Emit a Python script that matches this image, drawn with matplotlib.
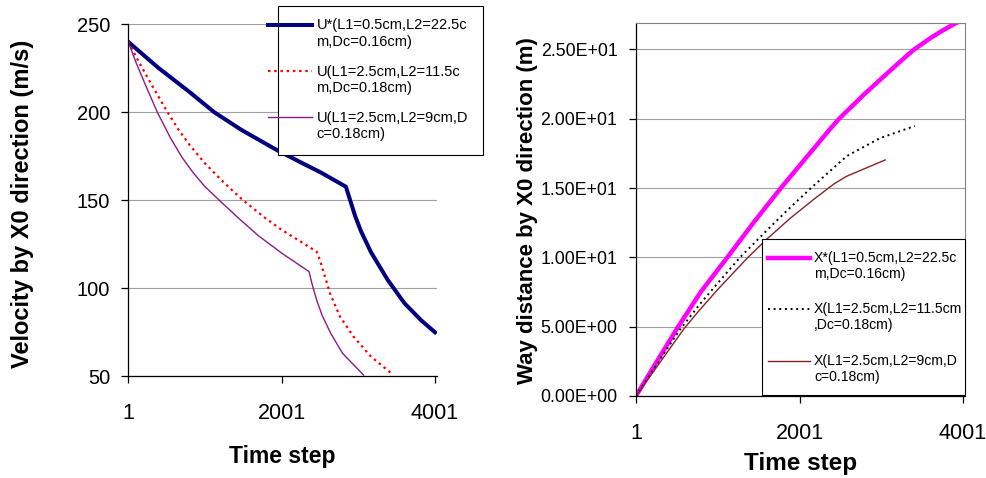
import numpy as np
import matplotlib
matplotlib.use("Agg")
import matplotlib.pyplot as plt
from matplotlib.lines import Line2D
from matplotlib.legend_handler import HandlerLine2D
from matplotlib.patches import Rectangle
from matplotlib.ticker import FuncFormatter

plt.rcParams['font.family'] = ['Liberation Sans', 'DejaVu Sans']

# ---------------- data ----------------
x_ticks = [1, 2001, 4001]
x_tick_labels = ["1", "2001", "4001"]

# left chart: velocity
u_star_steps = [1, 392, 800, 1123, 1480, 1936, 2293, 2512, 2839, 2880, 2960, 3035, 3166, 3385, 3603, 3821, 4001]
u_star_vals = [240, 225.3, 211.5, 200, 189.9, 178.6, 170.6, 165.8, 157.7, 152, 141, 132.5, 120.5, 104.7, 91.5, 81.8, 75]

u2_steps = [1, 140, 320, 500, 650, 800, 1000, 1250, 1485, 1770, 2001, 2250, 2413, 2457, 2500, 2566, 2631, 2762, 2937, 3166, 3428]
u2_vals = [240, 228.5, 214.5, 201, 190.5, 181.5, 171, 160, 150.5, 140.5, 133.2, 126.5, 122, 120.8, 116, 106.6, 97.2, 83.9, 72.6, 61.2, 51.8]

u3_steps = [1, 100, 230, 380, 550, 700, 850, 1000, 1200, 1440, 1700, 2001, 2358, 2400, 2460, 2530, 2641, 2796, 3070]
u3_vals = [240, 228.5, 215, 200, 185.5, 174.5, 165.5, 157.8, 149.5, 139.8, 129.8, 120, 109.5, 102, 93, 84.5, 74.4, 63, 50.7]

u_labels = ["U*(L1=0.5cm,L2=22.5c\nm,Dc=0.16cm)",
            "U(L1=2.5cm,L2=11.5c\nm,Dc=0.18cm)",
            "U(L1=2.5cm,L2=9cm,D\nc=0.18cm)"]
u_yticks = [50, 100, 150, 200, 250]

# right chart: way distance
x_star_steps = [1, 221, 506, 792, 1118, 1444, 1772, 2373, 2485, 2781, 2984, 3189, 3392, 3597, 3718, 3882, 4001]
x_star_vals = [0, 2.15, 4.9, 7.5, 10.0, 12.55, 15.0, 19.25, 20.0, 21.7, 22.8, 23.9, 24.95, 25.8, 26.25, 26.8, 27.15]

x2_steps = [1, 334, 540, 792, 995, 1273, 1607, 1843, 2137, 2577, 2984, 3412]
x2_vals = [0, 3.0, 4.8, 6.7, 8.1, 10.0, 11.98, 13.35, 14.98, 17.3, 18.6, 19.48]

x3_steps = [1, 334, 588, 742, 995, 1362, 1598, 1883, 2178, 2422, 2577, 3049]
x3_vals = [0, 2.75, 4.85, 5.95, 7.65, 9.95, 11.3, 12.8, 14.2, 15.3, 15.85, 17.03]

x_labels = ["X*(L1=0.5cm,L2=22.5c\nm,Dc=0.16cm)",
            "X(L1=2.5cm,L2=11.5cm\n,Dc=0.18cm)",
            "X(L1=2.5cm,L2=9cm,D\nc=0.18cm)"]
x_yticks = [0, 5, 10, 15, 20, 25]

# ---------------- figure ----------------
W, H = 987, 478
fig = plt.figure(figsize=(W / 100, H / 100), dpi=100)


def axes_px(l, t, r, b):
    return fig.add_axes([l / W, 1 - b / H, (r - l) / W, (b - t) / H])


def fig_pt(px, py):
    return (px / W, 1 - py / H)


class ShiftedHandler(HandlerLine2D):
    """Puts the legend line next to the first line of a two-line label."""
    def __init__(self, shift, **kw):
        super().__init__(**kw)
        self.shift = shift

    def create_artists(self, legend, orig_handle, xdescent, ydescent,
                       width, height, fontsize, trans):
        arts = super().create_artists(legend, orig_handle, xdescent, ydescent,
                                      width, height, fontsize, trans)
        for a in arts:
            a.set_ydata(np.asarray(a.get_ydata(), dtype=float) + self.shift)
        return arts


grid_kw = dict(color='#a0a0a0', lw=0.8)

# ---- left axes ----
L1 = dict(l=128.3, t=24.3, r=436.7, b=376.3)
ax1 = axes_px(L1['l'], L1['t'], L1['r'], L1['b'])
l_a, = ax1.plot(u_star_steps, u_star_vals, color='#000080', lw=2.9, solid_joinstyle='round')
l_b, = ax1.plot(u2_steps, u2_vals, color='#FF0000', lw=1.6, linestyle=(0, (1.1, 1.7)))
l_c, = ax1.plot(u3_steps, u3_vals, color='#8B1A8B', lw=1.0)
ax1.set_xlim(1, 4023)
ax1.set_ylim(50, 250)
ax1.set_xticks(x_ticks)
ax1.set_xticklabels(x_tick_labels)
ax1.set_yticks(u_yticks)
ax1.yaxis.grid(True, **grid_kw)
ax1.set_axisbelow(True)
for s in ('top', 'right'):
    ax1.spines[s].set_visible(False)
for s in ('left', 'bottom'):
    ax1.spines[s].set_linewidth(0.9)
ax1.tick_params(axis='y', direction='out', length=5, width=0.9, pad=8, labelsize=14.5)
ax1.tick_params(axis='x', direction='out', length=5, width=0.9, pad=14, labelsize=15.5)
w1 = L1['r'] - L1['l']; h1 = L1['b'] - L1['t']
ax1.set_xlabel('Time step', fontsize=16.5, fontweight='bold')
ax1.xaxis.set_label_coords(0.5, (L1['b'] - 456.7) / h1)
ax1.xaxis.label.set_verticalalignment('center')
ax1.set_ylabel('Velocity by X0 direction (m/s)', fontsize=17, fontweight='bold')
ax1.yaxis.set_label_coords((23 - L1['l']) / w1, (L1['b'] - 203.5) / h1)
ax1.yaxis.label.set_verticalalignment('center')

# ---- right axes ----
R1 = dict(l=636, t=22.7, r=965, b=396)
ax2 = axes_px(R1['l'], R1['t'], R1['r'], R1['b'])
r_a, = ax2.plot(x_star_steps, x_star_vals, color='#FF00FF', lw=3.2, solid_joinstyle='round')
r_b, = ax2.plot(x2_steps, x2_vals, color='#000000', lw=1.4, linestyle=(0, (1.0, 1.9)))
r_c, = ax2.plot(x3_steps, x3_vals, color='#882222', lw=1.0)
ax2.set_xlim(1, 4025)
ax2.set_ylim(0, 26.93)
ax2.set_xticks(x_ticks)
ax2.set_xticklabels(x_tick_labels)
ax2.set_yticks(x_yticks)
ax2.yaxis.set_major_formatter(FuncFormatter(lambda v, p: f"{v:.2E}"))
ax2.yaxis.grid(True, **grid_kw)
ax2.set_axisbelow(True)
for s in ('top', 'right'):
    ax2.spines[s].set_color('#808080')
    ax2.spines[s].set_linewidth(0.8)
for s in ('left', 'bottom'):
    ax2.spines[s].set_linewidth(0.9)
ax2.tick_params(axis='y', direction='out', length=5, width=0.9, pad=8.4, labelsize=12.8)
ax2.tick_params(axis='x', direction='out', length=5, width=0.9, pad=14.5, labelsize=15.5)
w2 = R1['r'] - R1['l']; h2 = R1['b'] - R1['t']
ax2.set_xlabel('Time step', fontsize=17.5, fontweight='bold')
ax2.xaxis.set_label_coords(0.5, (R1['b'] - 463.3) / h2)
ax2.xaxis.label.set_verticalalignment('center')
ax2.set_ylabel('Way distance by X0 direction (m)', fontsize=16, fontweight='bold')
ax2.yaxis.set_label_coords((527.5 - R1['l']) / w2, (R1['b'] - 211) / h2)
ax2.yaxis.label.set_verticalalignment('center')

# ---- legend boxes ----
fig.add_artist(Rectangle(fig_pt(278.3, 155), (483.3 - 278.3) / W, (155 - 6) / H,
                         transform=fig.transFigure, facecolor='white',
                         edgecolor='black', lw=0.8, zorder=2))
fig.add_artist(Rectangle(fig_pt(762.3, 395), (965 - 762.3) / W, (395 - 239.3) / H,
                         transform=fig.transFigure, facecolor='white',
                         edgecolor='black', lw=0.8, zorder=2))

leg_common = dict(loc='upper left', frameon=False, borderpad=0, borderaxespad=0,
                  handlelength=3.0, handletextpad=0.3)

leg1 = fig.legend([l_a, l_b, l_c], u_labels, bbox_to_anchor=fig_pt(268.3, 18.5),
                  labelspacing=1.05, fontsize=10.5,
                  handler_map={Line2D: ShiftedHandler(6.6)}, **leg_common)
leg2 = fig.legend([r_a, r_b, r_c], x_labels, bbox_to_anchor=fig_pt(767.7, 250.6),
                  labelspacing=1.5, fontsize=10.1,
                  handler_map={Line2D: ShiftedHandler(6.2)}, **leg_common)
for t in leg1.get_texts():
    t.set_linespacing(1.25)
for t in leg2.get_texts():
    t.set_linespacing(1.22)

fig.savefig('out.png', dpi=100)
